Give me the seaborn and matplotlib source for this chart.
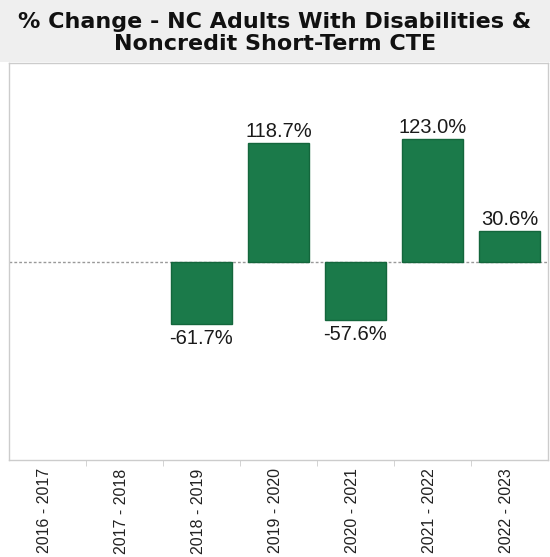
import numpy as np
import pandas as pd
import matplotlib
matplotlib.use('Agg')
import matplotlib.pyplot as plt
import matplotlib.transforms as mtransforms
import seaborn as sns
from matplotlib.patches import Rectangle

periods = ['2016 - 2017', '2017 - 2018', '2018 - 2019', '2019 - 2020',
           '2020 - 2021', '2021 - 2022', '2022 - 2023']
pct_change = [np.nan, np.nan, -61.7, 118.7, -57.6, 123.0, 30.6]

df = pd.DataFrame({'period': periods, 'pct': pct_change})

sns.set_style('white')
plt.rcParams['font.family'] = ['Liberation Sans', 'DejaVu Sans']

fig = plt.figure(figsize=(5.5, 5.57), dpi=100, facecolor='white')
ax = fig.add_axes([9 / 550, 1 - 460 / 557, 539 / 550, 397 / 557])

# light grey title band
fig.patches.append(Rectangle((0, 1 - 62 / 557), 1, 62 / 557, transform=fig.transFigure,
                             facecolor='#efefef', edgecolor='none', zorder=0))

sns.barplot(data=df.dropna(), x='period', y='pct', order=periods, color='#1b7a4a',
            saturation=1, width=0.78, edgecolor='#14663c', linewidth=1, ax=ax)

ax.axhline(0, color='#999999', linestyle=(0, (2, 1.5)), linewidth=1, zorder=0)

for i, v in enumerate(pct_change):
    if np.isnan(v):
        continue
    if v >= 0:
        ax.text(i, v + 2, f'{v:.1f}%', ha='center', va='bottom', fontsize=14.5, color='#1a1a1a')
    else:
        ax.text(i, v - 5, f'{v:.1f}%', ha='center', va='top', fontsize=14.5, color='#1a1a1a')

ax.set_ylim(-198, 199)
ax.set_xlim(-0.5, len(periods) - 0.5)
ax.set_yticks([])
ax.set_xlabel('')
ax.set_ylabel('')
ax.set_xticks(range(len(periods)))
ax.set_xticklabels(periods, rotation=90, fontsize=11.5, color='#222222')
ax.tick_params(axis='x', length=0, pad=6)
shift = mtransforms.ScaledTranslation(-3 / 100, 0, fig.dpi_scale_trans)
for lbl in ax.get_xticklabels():
    lbl.set_transform(lbl.get_transform() + shift)
ax.set_xticks(np.arange(0.5, len(periods) - 0.5, 1), minor=True)
ax.tick_params(axis='x', which='minor', length=4, color='#cccccc', bottom=True)
for s in ax.spines.values():
    s.set_color('#cccccc')
    s.set_linewidth(1)

title_font = ['DejaVu Sans']
fig.text(0.5, 1 - 22 / 557, '% Change - NC Adults With Disabilities &', family=title_font,
         ha='center', va='center', fontsize=16, fontweight='bold', color='#111111')
fig.text(0.5, 1 - 44 / 557, 'Noncredit Short-Term CTE', family=title_font,
         ha='center', va='center', fontsize=16, fontweight='bold', color='#111111')

fig.savefig('out.png', dpi=100, facecolor=fig.get_facecolor())
